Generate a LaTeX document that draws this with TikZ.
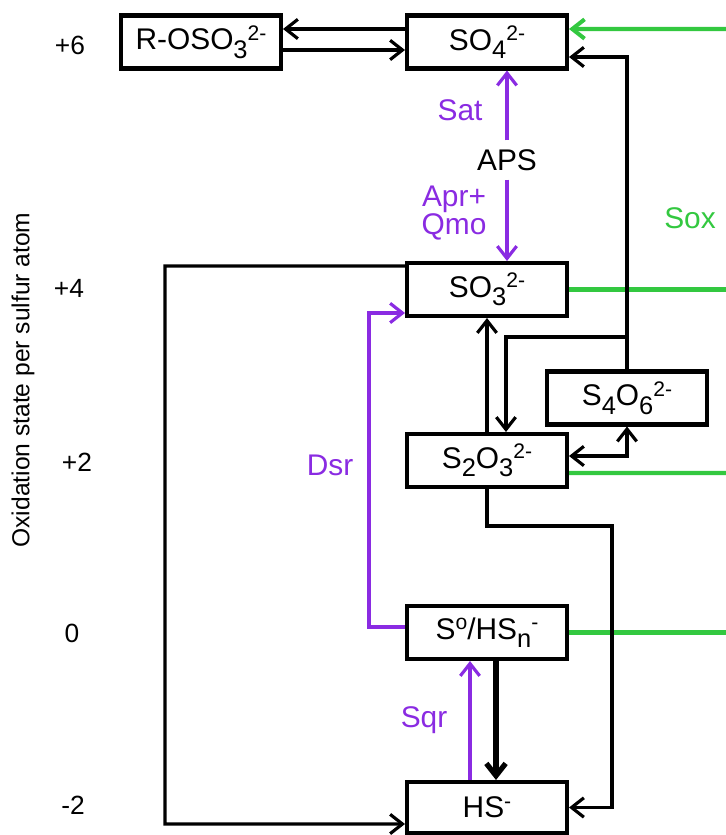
\documentclass[tikz,border=0pt]{standalone}
\usepackage{fontspec}
\setmainfont{Liberation Sans}
\usepackage{tikz}
\usetikzlibrary{arrows.meta}
\definecolor{sxpurple}{RGB}{138,43,226}
\definecolor{sxgreen}{RGB}{51,200,64}
\newcommand\boxfont{\fontsize{17}{20}\selectfont}
\newcommand\axfont{\fontsize{15}{17}\selectfont}
\newcommand\chsub[1]{\raisebox{-0.27em}{\fontsize{14.5}{15}\selectfont #1}}
\newcommand\chsup[1]{\raisebox{0.32em}{\fontsize{12}{12}\selectfont #1}}

\begin{document}
\begin{tikzpicture}[x=0.02cm, y=-0.02cm,
    box/.style={draw, line width=2.3pt, minimum width=3.2cm, minimum height=1.06cm, inner sep=0pt, font=\boxfont},
    arr/.style={line width=1.8pt, -{Straight Barb[length=7pt,width=11pt]}},
    purarr/.style={arr, draw=sxpurple},
    grn/.style={draw=sxgreen, line width=2.3pt},
    lbl/.style={font=\boxfont}]
    \useasboundingbox (0,0) rectangle (725,835);

    % Oxidation states
    \node[rotate=90, font=\fontsize{14}{16}\selectfont] (axis) at (23,380) {Oxidation state per sulfur atom};
    \node[font=\axfont] (ox6) at (70,45) {+6};
    \node[font=\axfont] (ox4) at (69,288) {+4};
    \node[font=\axfont] (ox2) at (77,462) {+2};
    \node[font=\axfont] (ox0) at (72,633) {0};
    \node[font=\axfont] (oxm2) at (73,805) {-2};

    % Species
    \node[box] (rso) at (201,42) {R-OSO\chsub{3}\chsup{2-}};
    \node[box] (so4) at (487,42) {SO\chsub{4}\chsup{2-}};
    \node[box] (so3) at (487,289.5) {SO\chsub{3}\chsup{2-}};
    \node[box] (s4o6) at (627,398) {S\chsub{4}O\chsub{6}\chsup{2-}};
    \node[box] (s2o3) at (487,460.5) {S\chsub{2}O\chsub{3}\chsup{2-}};
    \node[box] (s0) at (487,632.5) {S\chsup{o}/HS\chsub{n}\chsup{-}};
    \node[box, minimum height=1.02cm] (hs) at (487,807.5) {HS\chsup{-}};

    % Enzyme labels
    \node[lbl, inner sep=5pt] (aps) at (507,160) {APS};
    \node[lbl, text=sxpurple] (sat) at (460,110) {Sat};
    \node[lbl, text=sxpurple, align=center, font=\fontsize{17}{15}\selectfont] (apr) at (454,213) {Apr+\\Qmo};
    \node[lbl, text=sxgreen] (sox) at (690,218) {Sox};
    \node[lbl, text=sxpurple] (dsr) at (330,465) {Dsr};
    \node[lbl, text=sxpurple] (sqr) at (424,720) {Sqr};

    % Corners
    \coordinate (rim) at (726,0);
    \coordinate (join) at (625,337);
    \coordinate (bend) at (612,526);
    \coordinate (lft) at (165,266);

    % Sulfate and ester
    \draw[arr] ([yshift=0.26cm]so4.west) -- ([yshift=0.26cm]rso.east);
    \draw[arr] ([yshift=-0.16cm]rso.east) -- ([yshift=-0.16cm]so4.west);

    % Sat and Apr
    \draw[purarr] (aps.north) -- (aps.north |- so4.south);
    \draw[purarr] (aps.south) -- (aps.south |- so3.north);

    % Sox
    \draw[grn, -{Straight Barb[length=7pt,width=11pt]}] (rim |- 0,29) -- ([yshift=0.26cm]so4.east);
    \draw[grn] (so3.east) -- (rim |- so3.east);
    \draw[grn] ([yshift=-0.25cm]s2o3.east) -- (rim |- 0,473);
    \draw[grn] (s0.east) -- (rim |- s0.east);

    % Tetrathionate and thiosulfate
    \draw[arr] (s4o6.north) |- ([yshift=-0.3cm]so4.east);
    \draw[arr] (join) -| ([xshift=0.38cm]s2o3.north);
    \draw[arr] (s2o3.north) -- (so3.south);
    \draw[line width=1.8pt, {Straight Barb[length=7pt,width=11pt]}-{Straight Barb[length=7pt,width=11pt]}] ([yshift=0.09cm]s2o3.east) -| (s4o6.south);
    \draw[arr] (s2o3.south) |- (bend) |- (hs.east);

    % Sulfite to sulfide
    \draw[arr] ([yshift=0.47cm]so3.west) -- (lft) |- ([yshift=-0.33cm]hs.west);
    \draw[purarr] ([yshift=0.11cm]s0.west) -- ++(-36,0) |- ([yshift=-0.47cm]so3.west);

    % Sulfide and sulfur
    \draw[purarr] ([xshift=-0.34cm]hs.north) -- ([xshift=-0.34cm]s0.south);
    \draw[arr, line width=3pt] ([xshift=0.18cm]s0.south) -- ([xshift=0.18cm]hs.north);
\end{tikzpicture}
\end{document}
